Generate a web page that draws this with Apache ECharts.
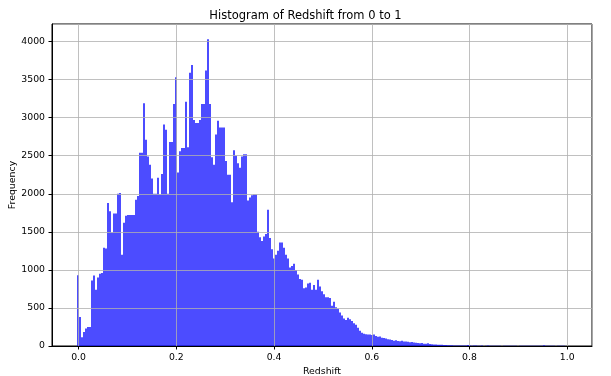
<!DOCTYPE html>
<html><head><meta charset="utf-8">
<script src="https://cdn.jsdelivr.net/npm/echarts@6/dist/echarts.min.js"></script>
<style>html,body{margin:0;padding:0;background:#fff}#c{width:611px;height:376px}</style>
</head><body><div id="c"></div>
<script>
// Histogram bins (redshift)
const binStart = -0.0041;
const binWidth = 0.0041;
const counts = [
  930,380,115,185,230,250,250,860,925,740,
  900,950,960,1290,1280,1880,1770,1490,1740,1740,
  2000,2010,1200,1620,1710,1720,1720,1720,1720,1920,
  1970,2540,2540,3190,2710,2490,2380,2200,2000,2000,
  2210,1990,2260,2910,2840,2000,2680,2680,3180,3530,
  2280,2560,2600,2600,3210,2610,3590,3690,2970,2930,
  2930,2970,3180,3180,3620,4030,3180,2480,2380,2780,
  2960,2870,2870,2870,2430,2250,2250,1890,2570,2500,
  2400,2340,2490,2520,2520,1910,1950,1980,1990,1990,
  1500,1430,1380,1440,1470,1790,1420,1270,1150,1200,
  1250,1360,1360,1290,1200,1150,1030,1050,1080,1000,
  940,880,870,760,770,820,830,740,800,740,
  870,780,720,680,640,640,630,530,580,510,
  490,440,400,360,340,370,350,330,300,280,
  240,200,175,160,155,150,150,145,150,130,
  120,125,110,105,100,90,85,80,70,75,
  65,62,70,60,58,55,50,52,45,42,
  40,35,38,30,28,35,25,22,20,20,
  18,15,15,12,12,10,10,9,8,8,
  7,6,
  6,5,7,12,5,4,6,5,3,4,
  5,0,3,5,4,3,4,3,2,4,
  0,2,3,2,3,2,2,3,0,3,
  2,2,3,2,4,2,2,3,2,2,
  3,10,2,3,2,2,3,0,2,3,
  2,2,1
];
const yMax = 4230;
const yInterval = 500;

const titleText = 'Histogram of Redshift from 0 to 1';
const xName = 'Redshift';
const yName = 'Frequency';

const binEnd = binStart + counts.length * binWidth;
const span = binEnd - binStart;
const xMin = binStart - 0.05 * span;
const xMax = binEnd + 0.05 * span;

const data = counts.map((c, i) => [binStart + i * binWidth, binStart + (i + 1) * binWidth, c]);

const font = 'DejaVu Sans';
const chart = echarts.init(document.getElementById('c'), null, {renderer: 'canvas'});
chart.setOption({
  animation: false,
  backgroundColor: '#fff',
  title: {
    text: titleText, left: 'center', top: 5,
    textStyle: {fontFamily: font, fontSize: 11.5, fontWeight: 'normal', color: '#000'}
  },
  grid: {left: 52, right: 19, top: 24, bottom: 30, containLabel: false, outerBoundsMode: 'none',
    show: true, borderColor: '#000', borderWidth: 1, backgroundColor: 'transparent'},
  xAxis: {
    type: 'value', min: xMin, max: xMax, splitNumber: 5, z: 3,
    name: xName, nameLocation: 'middle', nameGap: 21, nameMoveOverlap: false,
    nameTextStyle: {fontFamily: font, fontSize: 9.4, color: '#000'},
    axisLine: {show: true, onZero: false, lineStyle: {color: '#000', width: 1}},
    axisTick: {show: true, inside: false, length: 3.5, lineStyle: {color: '#000'}},
    axisLabel: {fontFamily: font, fontSize: 9.3, color: '#000', margin: 7,
      showMinLabel: false, showMaxLabel: false, formatter: v => v.toFixed(1)},
    splitLine: {show: true, lineStyle: {color: '#b0b0b0', width: 0.8}}
  },
  yAxis: {
    type: 'value', min: 0, max: yMax, interval: yInterval, z: 3,
    name: yName, nameLocation: 'middle', nameGap: 35, nameMoveOverlap: false,
    nameTextStyle: {fontFamily: font, fontSize: 9.4, color: '#000'},
    axisLine: {show: true, onZero: false, lineStyle: {color: '#000', width: 1}},
    axisTick: {show: true, inside: false, length: 3.5, lineStyle: {color: '#000'}},
    axisLabel: {fontFamily: font, fontSize: 9.3, color: '#000', margin: 7, showMaxLabel: false,
      formatter: v => String(Math.round(v))},
    splitLine: {show: true, lineStyle: {color: '#b0b0b0', width: 0.8}}
  },
  series: [{
    type: 'custom', z: 2,
    encode: {x: [0, 1], y: 2},
    data: data,
    renderItem: function (params, api) {
      const p0 = api.coord([api.value(0), api.value(2)]);
      const p1 = api.coord([api.value(1), 0]);
      const l = Math.round(p0[0]), r = Math.round(p1[0]);
      return {type: 'rect', shape: {x: l, y: p0[1], width: r - l, height: p1[1] - p0[1]},
        style: {fill: 'rgba(0,0,255,0.7)'}};
    }
  }]
});
</script></body></html>
